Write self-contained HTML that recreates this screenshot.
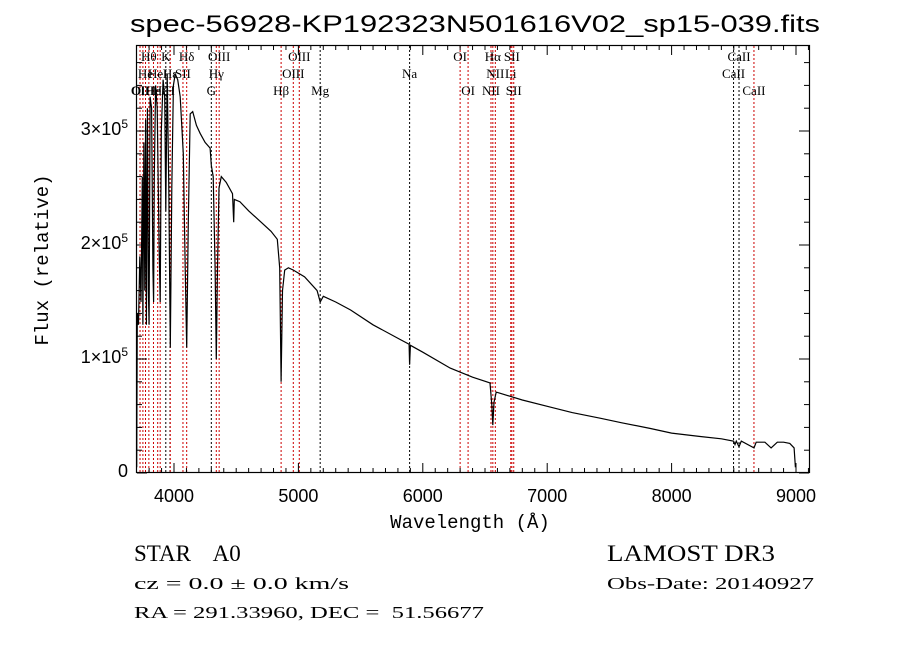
<!DOCTYPE html>
<html><head><meta charset="utf-8"><style>
html,body{margin:0;padding:0;background:#fff;}
svg{display:block;font-family:"Liberation Serif",serif;}
text{white-space:pre;}
</style></head><body>
<svg id="chart" width="900" height="649" viewBox="0 0 900 649" xmlns="http://www.w3.org/2000/svg" xml:space="preserve">
<rect width="900" height="649" fill="#fff"/>
<text x="475" y="32" font-family="Liberation Sans, sans-serif" font-size="24" text-anchor="middle" textLength="690" lengthAdjust="spacingAndGlyphs">spec-56928-KP192323N501616V02_sp15-039.fits</text>
<g id="lines"></g>
<g id="labels" font-size="13"></g>
<path id="spec" fill="none" stroke="#000" stroke-width="1.2"/>
<rect x="136.5" y="45.5" width="673" height="427" fill="none" stroke="#000" stroke-width="1.2"/>
<g id="axes" font-size="18"></g>
<text x="470" y="528" font-size="19" text-anchor="middle" font-family="Liberation Mono, monospace">Wavelength (Å)</text>
<text transform="translate(48,260) rotate(-90)" font-size="19" text-anchor="middle" font-family="Liberation Mono, monospace">Flux (relative)</text>
<text x="134" y="561" font-size="23" style="white-space:pre">STAR    A0</text>
<text x="607" y="561" font-size="23" textLength="168" lengthAdjust="spacingAndGlyphs">LAMOST DR3</text>
<text x="134" y="589" font-size="17" textLength="215" lengthAdjust="spacingAndGlyphs">cz = 0.0 ± 0.0 km/s</text>
<text x="607" y="589" font-size="17" textLength="207" lengthAdjust="spacingAndGlyphs">Obs-Date: 20140927</text>
<text x="134" y="618" font-size="17" style="white-space:pre" textLength="350" lengthAdjust="spacingAndGlyphs">RA = 291.33960, DEC =  51.56677</text>
</svg>
<script>
const wave=[3700,3705,3715,3725,3735,3745,3750,3758,3765,3772,3778,3786,3794,3800,3808,3820,3830,3836,3842,3852,3865,3880,3889,3898,3912,3925,3934,3945,3958,3970,3982,3995,4010,4030,4050,4075,4090,4102,4115,4130,4150,4180,4210,4250,4290,4300,4315,4330,4340,4350,4362,4380,4420,4470,4480,4485,4530,4600,4700,4780,4830,4850,4861,4872,4890,4920,4960,5050,5150,5175,5200,5300,5420,5600,5820,5890,5894,5900,6000,6220,6400,6540,6555,6563,6572,6590,6620,6800,7020,7200,7430,7600,7830,8000,8230,8400,8498,8510,8520,8542,8560,8662,8680,8750,8800,8850,8900,8950,8985,8995];
const flux=[0.05,1.4,1.3,1.9,1.5,2.6,1.3,2.9,1.6,3.1,1.3,3.2,1.6,1.3,3.3,3.2,1.8,1.5,2.6,3.4,3.2,2.0,1.5,3.0,3.45,3.3,2.3,3.5,2.5,1.1,2.5,3.4,3.5,3.45,3.3,2.8,1.8,1.1,2.2,3.15,3.17,3.05,2.98,2.9,2.85,2.7,2.6,1.8,1.0,1.8,2.5,2.6,2.55,2.45,2.2,2.4,2.38,2.3,2.2,2.12,2.05,1.8,0.8,1.6,1.78,1.8,1.78,1.72,1.6,1.5,1.55,1.5,1.43,1.3,1.17,1.13,0.95,1.12,1.06,0.92,0.84,0.79,0.6,0.42,0.62,0.71,0.70,0.64,0.58,0.53,0.48,0.44,0.39,0.35,0.32,0.30,0.28,0.25,0.28,0.23,0.28,0.22,0.27,0.27,0.22,0.27,0.27,0.26,0.22,0.05];
const lineWaves=[3727,3750,3771,3798,3835,3869,3889,3934,3968,3970,4072,4102,4300,4340,4363,4861,4959,5007,5175,5894,6300,6364,6548,6563,6583,6707,6716,6731,8498,8542,8662];
const lineAbs=[0,0,0,0,0,0,0,1,1,0,0,0,1,0,0,0,0,0,1,1,0,0,0,0,0,0,0,0,1,1,0];
const lineLabels=["OII","OIII","He","Hθ","He","HeI","Hζ","K","H","Hε","SII","Hδ","G","Hγ","OIII","Hβ","OIII","OIII","Mg","Na","OI","OI","NII","Hα","NII","Li","SII","SII","CaII","CaII","CaII"];
const labelRow=[2,2,1,0,2,1,2,0,2,1,1,0,2,1,0,2,1,0,2,1,0,2,2,0,1,1,0,2,1,0,2];
const xTicks=[4000,5000,6000,7000,8000,9000];
const yTicks=[0,1,2,3];
const NS="http://www.w3.org/2000/svg";
const X=w=>174+(w-4000)*0.1244;
const Y=f=>473-f*114;
const svg=document.getElementById('chart');
function mk(t,a,p){const e=document.createElementNS(NS,t);for(const k in a)e.setAttribute(k,a[k]);p.appendChild(e);return e;}
let d='';wave.forEach((w,i)=>{d+=(i?'L':'M')+X(w).toFixed(1)+' '+Y(flux[i]).toFixed(1);});
document.getElementById('spec').setAttribute('d',d);
const gl=document.getElementById('lines'),gt=document.getElementById('labels');
lineWaves.forEach((w,i)=>{
 const l=mk('line',{x1:X(w),x2:X(w),y1:46,y2:472,stroke:lineAbs[i]?'#000':'#c00','stroke-width':1,'stroke-dasharray':'2,2'},gl);
 
 
 const t=mk('text',{x:X(w),y:61+labelRow[i]*17,'text-anchor':'middle'},gt);
 t.textContent=lineLabels[i];
 
 
});
const ga=document.getElementById('axes');
for(let w=3800;w<=9100;w+=100){const big=w%1000===0,len=big?10:5;
 mk('line',{x1:X(w),x2:X(w),y1:473,y2:473-len,stroke:'#000'},ga);
 mk('line',{x1:X(w),x2:X(w),y1:45,y2:45+len,stroke:'#000'},ga);}
xTicks.forEach(w=>{const t=mk('text',{x:X(w),y:502,'text-anchor':'middle','font-family':'Liberation Sans, sans-serif'},ga);t.textContent=w;
 
 });
for(let f=0;f<=3.7;f+=0.2){const big=Math.abs(f-Math.round(f))<1e-6,len=big?10:5;
 mk('line',{x1:137,x2:137+len,y1:Y(f),y2:Y(f),stroke:'#000'},ga);
 mk('line',{x1:809,x2:809-len,y1:Y(f),y2:Y(f),stroke:'#000'},ga);}
yTicks.forEach(f=>{const t=mk('text',{x:128,y:Y(f)+4,'text-anchor':'end','font-family':'Liberation Sans, sans-serif'},ga);
 if(f===0)t.textContent='0';else{t.textContent=f+'×10';const s=mk('tspan',{dy:-7,'font-size':12},t);s.textContent='5';}
 
 });
</script>
</body></html>
